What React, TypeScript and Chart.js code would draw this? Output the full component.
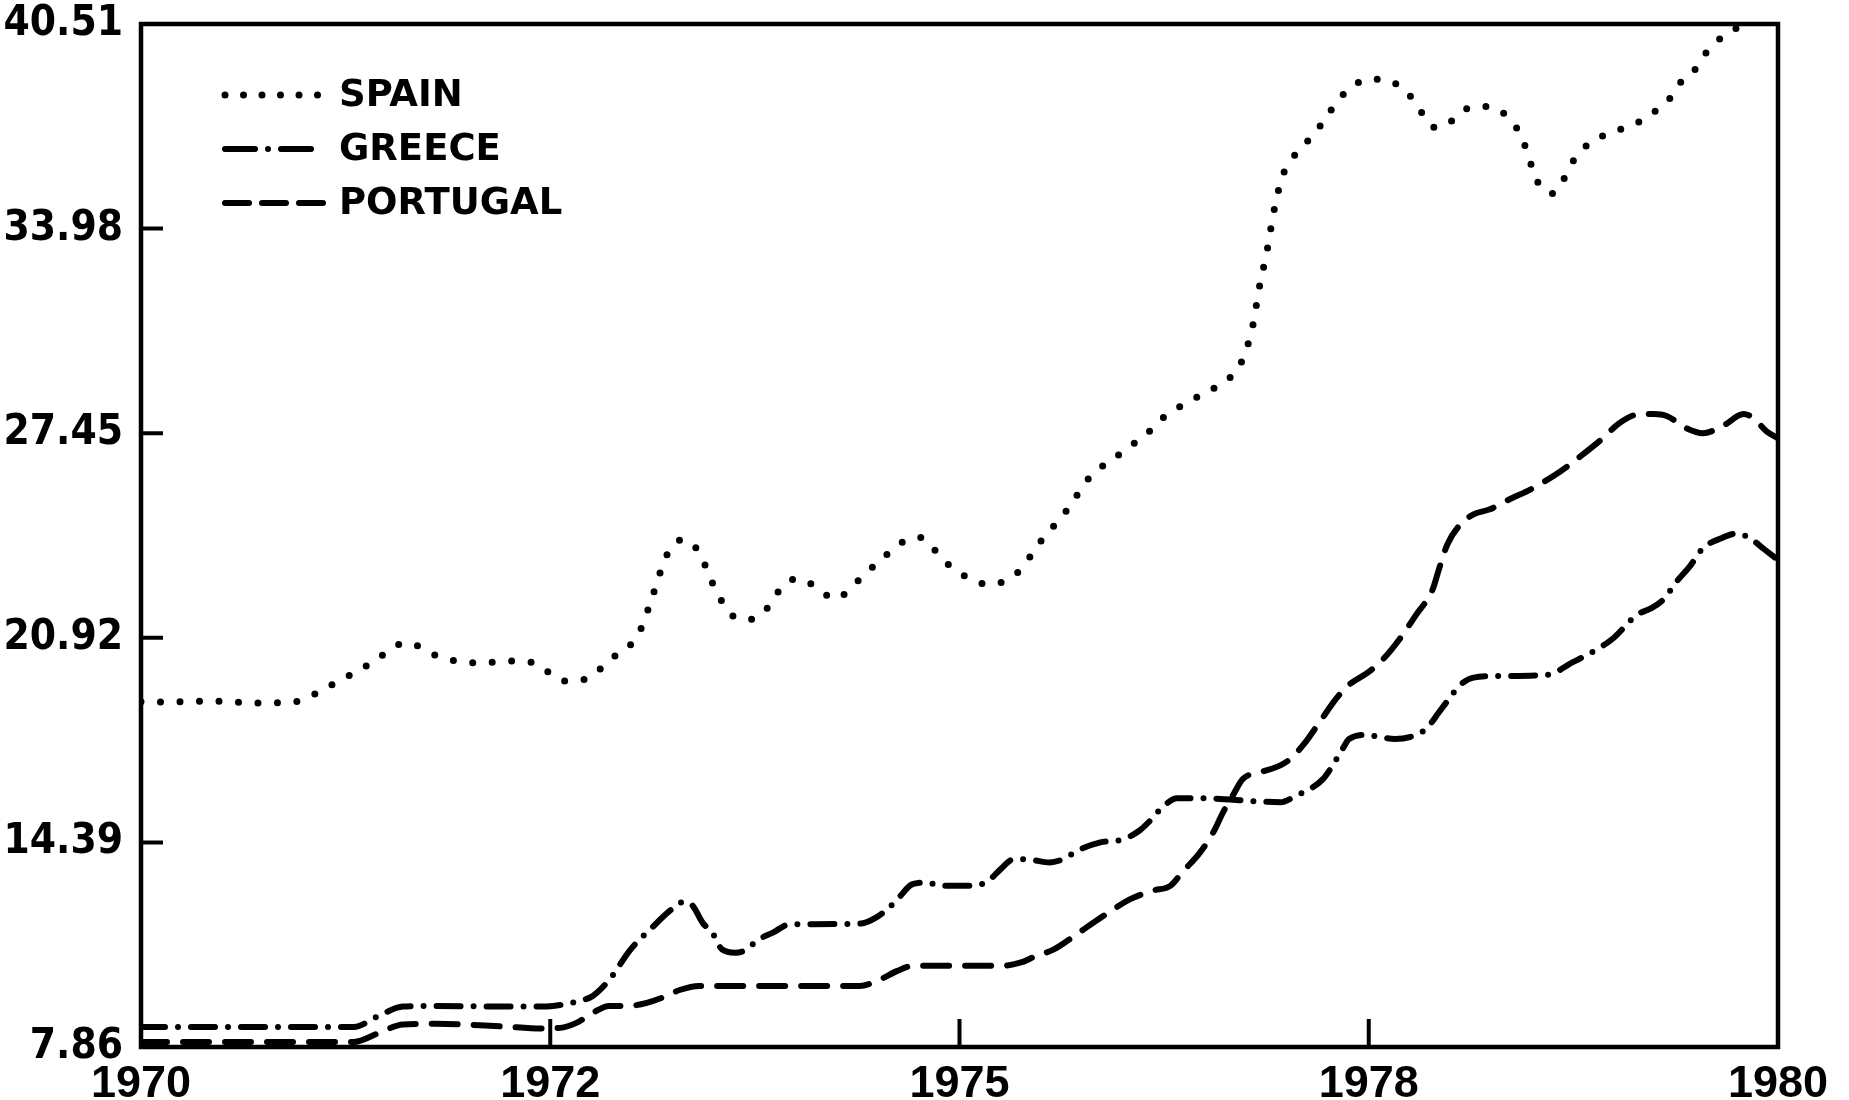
import React, { useEffect, useRef } from "react";
import { Chart, registerables } from "chart.js";

Chart.register(...registerables);

const seriesNames = ["SPAIN", "GREECE", "PORTUGAL"];

const spainYears = [
  1970.0, 1970.1, 1970.45, 1970.7, 1970.93, 1971.15, 1971.4, 1971.62, 1971.84, 1972.06,
  1972.28, 1972.4, 1972.59, 1972.7, 1972.88, 1973.04, 1973.13, 1973.21, 1973.31, 1973.41,
  1973.49, 1973.6, 1973.69, 1973.79, 1973.93, 1974.01, 1974.1, 1974.24, 1974.38, 1974.52,
  1974.7, 1974.76, 1974.91, 1975.06, 1975.18, 1975.25, 1975.36, 1975.5, 1975.66, 1975.79,
  1975.97, 1976.16, 1976.24, 1976.43, 1976.62, 1976.71, 1976.79, 1976.83, 1976.88, 1976.92,
  1976.97, 1977.02, 1977.09, 1977.17, 1977.24, 1977.31, 1977.4, 1977.51, 1977.62, 1977.7,
  1977.77, 1977.83, 1977.9, 1977.98, 1978.07, 1978.18, 1978.3, 1978.37, 1978.43, 1978.47,
  1978.5, 1978.54, 1978.62, 1978.69, 1978.74, 1978.8, 1978.89, 1978.98, 1979.07, 1979.17,
  1979.25, 1979.34, 1979.4, 1979.49, 1979.55, 1979.63, 1979.72, 1979.78, 1979.85, 1980.0,
];
const spainValues = [
  18.88, 18.87, 18.9, 18.84, 18.87, 19.38, 20.09, 20.76, 20.28, 20.12,
  20.18, 20.12, 19.54, 19.58, 20.28, 21.05, 22.33, 23.54, 24.06, 23.64,
  22.68, 21.69, 21.5, 21.66, 22.62, 22.81, 22.62, 22.17, 22.74, 23.42,
  24.09, 24.12, 23.35, 22.81, 22.62, 22.68, 23.03, 24.02, 25.02, 26.01,
  26.75, 27.51, 27.93, 28.54, 29.11, 29.59, 30.84, 32.06, 33.31, 34.52,
  35.61, 36.12, 36.57, 37.02, 37.53, 38.05, 38.53, 38.75, 38.72, 38.46,
  38.11, 37.63, 37.21, 37.31, 37.73, 37.88, 37.76, 37.4, 36.96, 36.38,
  35.9, 35.39, 35.1, 35.55, 36.06, 36.48, 36.83, 37.05, 37.21, 37.44,
  37.73, 38.14, 38.62, 39.04, 39.52, 39.97, 40.29, 40.48, 40.6, 41.0,
];

const greeceYears = [
  1970.0, 1971.3, 1971.45, 1971.6, 1971.8, 1972.2, 1972.45, 1972.56, 1972.68, 1972.76,
  1972.86, 1972.99, 1973.11, 1973.24, 1973.32, 1973.37, 1973.43, 1973.49, 1973.55, 1973.63,
  1973.7, 1973.76, 1973.86, 1973.96, 1974.1, 1974.4, 1974.49, 1974.57, 1974.63, 1974.71,
  1974.8, 1974.88, 1975.06, 1975.17, 1975.25, 1975.33, 1975.41, 1975.55, 1975.63, 1975.73,
  1975.86, 1976.0, 1976.1, 1976.16, 1976.22, 1976.33, 1976.47, 1976.82, 1976.96, 1977.06,
  1977.14, 1977.22, 1977.28, 1977.34, 1977.38, 1977.49, 1977.57, 1977.66, 1977.75, 1977.85,
  1977.93, 1977.99, 1978.06, 1978.14, 1978.3, 1978.59, 1978.75, 1978.89, 1978.99, 1979.14,
  1979.22, 1979.3, 1979.38, 1979.46, 1979.54, 1979.65, 1979.75, 1979.83, 1979.91, 1980.0,
];
const greeceValues = [
  8.5, 8.5, 8.85, 9.15, 9.17, 9.15, 9.15, 9.2, 9.33, 9.49,
  10.0, 10.97, 11.61, 12.25, 12.5, 12.37, 11.83, 11.51, 10.97, 10.87,
  10.97, 11.25, 11.51, 11.77, 11.78, 11.8, 11.99, 12.31, 12.63, 13.05,
  13.11, 13.01, 13.01, 13.14, 13.53, 13.85, 13.85, 13.75, 13.85, 14.15,
  14.39, 14.49, 14.77, 15.06, 15.41, 15.8, 15.8, 15.7, 15.67, 15.89,
  16.09, 16.41, 16.85, 17.37, 17.69, 17.82, 17.75, 17.69, 17.75, 18.01,
  18.55, 18.97, 19.42, 19.65, 19.7, 19.74, 20.15, 20.54, 20.89, 21.66,
  21.85, 22.14, 22.71, 23.19, 23.77, 24.09, 24.25, 24.09, 23.77, 23.4,
];

const portugalYears = [
  1970.0, 1971.3, 1971.45, 1971.6, 1971.8, 1972.2, 1972.45, 1972.56, 1972.66, 1972.76,
  1972.86, 1972.97, 1973.09, 1973.21, 1973.29, 1973.41, 1974.39, 1974.51, 1974.62, 1974.72,
  1975.25, 1975.37, 1975.47, 1975.57, 1975.67, 1975.73, 1975.91, 1976.04, 1976.18, 1976.29,
  1976.36, 1976.47, 1976.55, 1976.61, 1976.67, 1976.73, 1976.84, 1976.96, 1977.02, 1977.1,
  1977.2, 1977.3, 1977.38, 1977.5, 1977.59, 1977.69, 1977.79, 1977.89, 1977.93, 1977.98,
  1978.06, 1978.14, 1978.24, 1978.36, 1978.5, 1978.67, 1978.81, 1978.93, 1979.03, 1979.16,
  1979.24, 1979.32, 1979.44, 1979.54, 1979.66, 1979.79, 1979.85, 1979.93, 1980.0,
];
const portugalValues = [
  8.02, 8.02, 8.3, 8.58, 8.6, 8.52, 8.45, 8.47, 8.63, 8.95,
  9.17, 9.17, 9.27, 9.49, 9.68, 9.81, 9.81, 10.0, 10.29, 10.45,
  10.45, 10.55, 10.77, 10.96, 11.29, 11.51, 12.15, 12.57, 12.85, 13.01,
  13.43, 14.07, 14.71, 15.35, 15.89, 16.41, 16.63, 16.85, 17.05, 17.5,
  18.23, 18.97, 19.42, 19.83, 20.25, 20.89, 21.66, 22.46, 23.13, 23.9,
  24.54, 24.86, 25.02, 25.34, 25.69, 26.23, 26.78, 27.29, 27.77, 28.06,
  28.06, 28.0, 27.61, 27.45, 27.67, 28.06, 27.93, 27.51, 27.29,
];

const xTickValues = [1970, 1972.5, 1975, 1977.5, 1980];
const xTickLabels = ["1970", "1972", "1975", "1978", "1980"];
const yTickValues = [7.86, 14.39, 20.92, 27.45, 33.98, 40.51];
const yTickLabels = ["7.86", "14.39", "20.92", "27.45", "33.98", "40.51"];

const lineStyles = [
  { width: 7, dash: [0, 19.5], legendDash: [0, 18.5], legendLen: 94 },
  { width: 6, dash: [24, 13, 0, 13], legendDash: [30, 13, 0, 13], legendLen: 94 },
  { width: 6, dash: [26, 16], legendDash: [24, 13], legendLen: 98 },
];

const pairs = (xs: number[], ys: number[]) => xs.map((x, i) => ({ x, y: ys[i] }));

const framePlugin = {
  id: "frameTicksLegend",
  afterDatasetsDraw(chart: any) {
    const { ctx, chartArea: a, scales } = chart;
    ctx.save();
    ctx.strokeStyle = "#000";
    ctx.fillStyle = "#000";
    ctx.setLineDash([]);
    ctx.lineCap = "butt";
    ctx.lineWidth = 4.5;
    ctx.strokeRect(a.left, a.top, a.right - a.left, a.bottom - a.top);
    ctx.lineWidth = 4;
    ctx.beginPath();
    yTickValues.slice(1, -1).forEach((v) => {
      const y = scales.y.getPixelForValue(v);
      ctx.moveTo(a.left, y);
      ctx.lineTo(a.left + 22, y);
    });
    xTickValues.slice(1, -1).forEach((v) => {
      const x = scales.x.getPixelForValue(v);
      ctx.moveTo(x, a.bottom);
      ctx.lineTo(x, a.bottom - 28);
    });
    ctx.stroke();

    // legend
    ctx.font = 'bold 37px "DejaVu Sans", sans-serif';
    ctx.textBaseline = "middle";
    ctx.textAlign = "left";
    seriesNames.forEach((name, i) => {
      const st = lineStyles[i];
      const y = a.top + 71 + i * 54;
      const x0 = a.left + 84;
      ctx.lineWidth = st.width;
      ctx.lineCap = "round";
      ctx.setLineDash(st.legendDash);
      ctx.beginPath();
      ctx.moveTo(x0, y);
      ctx.lineTo(x0 + st.legendLen, y);
      ctx.stroke();
      ctx.setLineDash([]);
      ctx.fillText(name, a.left + 198, y + 1);
    });
    ctx.restore();
  },
};

export default function App() {
  const canvasRef = useRef<HTMLCanvasElement | null>(null);

  useEffect(() => {
    const canvas = canvasRef.current;
    if (!canvas) return;
    const makeDs = (label: string, xs: number[], ys: number[], i: number) => ({
      label,
      data: pairs(xs, ys),
      borderColor: "#000",
      backgroundColor: "#000",
      borderWidth: lineStyles[i].width,
      borderDash: lineStyles[i].dash,
      borderCapStyle: "round",
      borderJoinStyle: "round",
      pointRadius: 0,
      fill: false,
      cubicInterpolationMode: "monotone",
    });
    const chart = new Chart(canvas, {
      type: "line",
      data: {
        datasets: [
          makeDs(seriesNames[0], spainYears, spainValues, 0),
          makeDs(seriesNames[1], greeceYears, greeceValues, 1),
          makeDs(seriesNames[2], portugalYears, portugalValues, 2),
        ] as any,
      },
      options: {
        animation: false,
        responsive: true,
        maintainAspectRatio: false,
        layout: { padding: { top: 24, right: 71, left: 0, bottom: 0 } },
        plugins: { legend: { display: false }, tooltip: { enabled: false } },
        scales: {
          x: {
            type: "linear",
            min: 1970,
            max: 1980,
            grid: { display: false },
            border: { display: false },
            afterBuildTicks: (s: any) => {
              s.ticks = xTickValues.map((v) => ({ value: v }));
            },
            afterFit: (s: any) => {
              s.height = 53;
              s.paddingLeft = 0;
              s.paddingRight = 0;
              s.paddingTop = 0;
              s.paddingBottom = 0;
            },
            ticks: {
              autoSkip: false,
              maxRotation: 0,
              minRotation: 0,
              padding: 7,
              color: "#000",
              font: { family: '"Liberation Sans", Arial, sans-serif', size: 45, weight: "bold", lineHeight: 1 },
              callback: (_v: any, i: number) => xTickLabels[i],
            },
          },
          y: {
            type: "linear",
            min: 7.86,
            max: 40.51,
            grid: { display: false },
            border: { display: false },
            afterBuildTicks: (s: any) => {
              s.ticks = yTickValues.map((v) => ({ value: v }));
            },
            afterFit: (s: any) => {
              s.width = 141;
              s.paddingTop = 0;
              s.paddingBottom = 0;
              s.paddingLeft = 0;
              s.paddingRight = 0;
            },
            ticks: {
              autoSkip: false,
              padding: 10,
              color: "#000",
              font: { family: '"DejaVu Sans Condensed", "DejaVu Sans", sans-serif', size: 42, weight: "bold", lineHeight: 1 },
              callback: (_v: any, i: number) => yTickLabels[i],
            },
          },
        },
      } as any,
      plugins: [framePlugin],
    });
    return () => chart.destroy();
  }, []);

  return (
    <div style={{ position: "fixed", left: 0, top: 0, width: 1849, height: 1100, background: "#fff" }}>
      <canvas ref={canvasRef} style={{ display: "block" }} />
    </div>
  );
}
